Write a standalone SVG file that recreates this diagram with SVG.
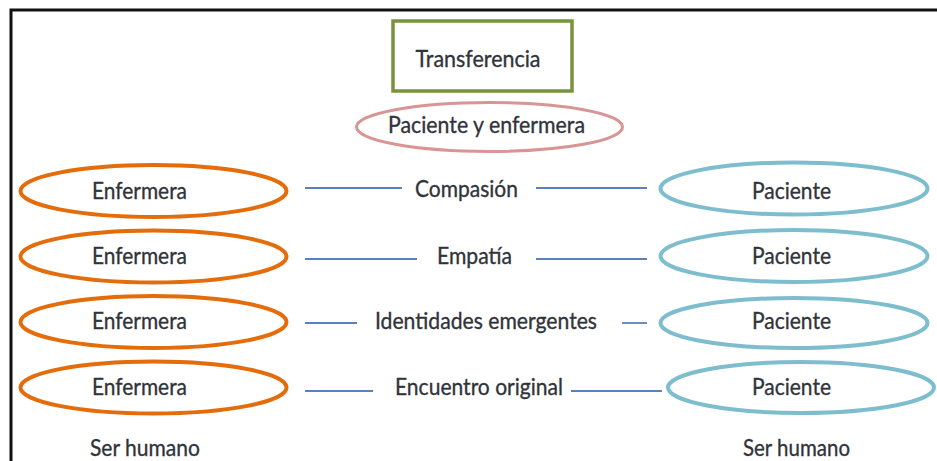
<svg xmlns="http://www.w3.org/2000/svg" width="937" height="461" viewBox="0 0 937 461">
<style>
text{font-family:Lato,"Open Sans","Liberation Sans",sans-serif;font-size:24px;fill:#30343a;stroke:#30343a;stroke-width:0.35;text-anchor:middle}
.nurse{fill:none;stroke:#E46C0A;stroke-width:4}
.patient{fill:none;stroke:#7DBDCD;stroke-width:4}
.link{stroke:#5B80BE;stroke-width:1.8}
</style>
<rect width="937" height="461" fill="#fff"/>
<g id="frame" fill="none" stroke="#111" stroke-width="3">
<path d="M11 461 V10 H937"/>
</g>
<g id="transferencia">
<rect x="393" y="21" width="179" height="70" fill="none" stroke="#77933C" stroke-width="3.5"/>
<text x="478" y="67" textLength="125" lengthAdjust="spacingAndGlyphs">Transferencia</text>
</g>
<g id="paciente-enfermera">
<ellipse cx="489.5" cy="127" rx="133" ry="24.5" fill="none" stroke="#D99594" stroke-width="3"/>
<text x="486.5" y="133" textLength="197" lengthAdjust="spacingAndGlyphs">Paciente y enfermera</text>
</g>
<g id="connectors">
<line class="link" x1="305" y1="188" x2="402" y2="188"/>
<line class="link" x1="536" y1="188" x2="647" y2="188"/>
<line class="link" x1="305" y1="259" x2="417" y2="259"/>
<line class="link" x1="536" y1="259" x2="647" y2="259"/>
<line class="link" x1="305" y1="323" x2="357" y2="323"/>
<line class="link" x1="622" y1="323" x2="647" y2="323"/>
<line class="link" x1="305" y1="391" x2="373" y2="391"/>
<line class="link" x1="571" y1="391" x2="662" y2="391"/>
</g>
<g id="enfermera-1">
<ellipse class="nurse" cx="153.5" cy="191" rx="133" ry="26"/>
<text x="139.5" y="198.5" textLength="95" lengthAdjust="spacingAndGlyphs">Enfermera</text>
</g>
<g id="enfermera-2">
<ellipse class="nurse" cx="153.5" cy="256.5" rx="133" ry="26"/>
<text x="139.5" y="264" textLength="95" lengthAdjust="spacingAndGlyphs">Enfermera</text>
</g>
<g id="enfermera-3">
<ellipse class="nurse" cx="153.5" cy="322" rx="133" ry="26"/>
<text x="139.5" y="329" textLength="95" lengthAdjust="spacingAndGlyphs">Enfermera</text>
</g>
<g id="enfermera-4">
<ellipse class="nurse" cx="153.5" cy="387.5" rx="133" ry="26"/>
<text x="139.5" y="395" textLength="95" lengthAdjust="spacingAndGlyphs">Enfermera</text>
</g>
<g id="compasion">
<text x="466.5" y="197" textLength="103" lengthAdjust="spacingAndGlyphs">Compasión</text>
</g>
<g id="empatia">
<text x="474.5" y="264" textLength="75" lengthAdjust="spacingAndGlyphs">Empatía</text>
</g>
<g id="identidades">
<text x="486" y="329" textLength="222" lengthAdjust="spacingAndGlyphs">Identidades emergentes</text>
</g>
<g id="encuentro">
<text x="479" y="395" textLength="168" lengthAdjust="spacingAndGlyphs">Encuentro original</text>
</g>
<g id="paciente-1">
<ellipse class="patient" cx="794" cy="188.5" rx="133.5" ry="26"/>
<text x="791.5" y="198.5" textLength="79" lengthAdjust="spacingAndGlyphs">Paciente</text>
</g>
<g id="paciente-2">
<ellipse class="patient" cx="794" cy="256" rx="133.5" ry="26"/>
<text x="791.5" y="264" textLength="79" lengthAdjust="spacingAndGlyphs">Paciente</text>
</g>
<g id="paciente-3">
<ellipse class="patient" cx="794" cy="323" rx="133.5" ry="25"/>
<text x="791.5" y="329" textLength="79" lengthAdjust="spacingAndGlyphs">Paciente</text>
</g>
<g id="paciente-4">
<ellipse class="patient" cx="801" cy="387.5" rx="133" ry="25.5"/>
<text x="791.5" y="395" textLength="79" lengthAdjust="spacingAndGlyphs">Paciente</text>
</g>
<g id="ser-humano-enfermera">
<text x="145" y="456" textLength="110" lengthAdjust="spacingAndGlyphs">Ser humano</text>
</g>
<g id="ser-humano-paciente">
<text x="796.5" y="456" textLength="107" lengthAdjust="spacingAndGlyphs">Ser humano</text>
</g>
</svg>
